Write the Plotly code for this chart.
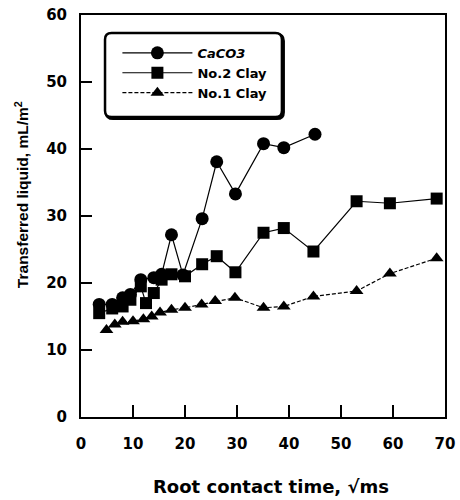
import plotly.graph_objects as go

# Data
caco3_x = [3.5, 6, 8, 9.5, 11.5, 14, 15.5, 17.4, 19.6, 23.3, 26.1, 29.7, 35.1, 39, 45]
caco3_y = [16.8, 16.8, 17.8, 18.3, 20.5, 20.8, 21.3, 27.2, 21.2, 29.6, 38.1, 33.3, 40.8, 40.2, 42.2]

clay2_x = [3.5, 6, 8, 9.5, 11.5, 12.5, 14, 15.5, 17.4, 20, 23.3, 26.1, 29.7, 35.1, 39, 44.7, 53, 59.4, 68.4]
clay2_y = [15.5, 16.2, 16.5, 17.5, 19.5, 17.0, 18.5, 20.5, 21.3, 21.0, 22.8, 24.0, 21.6, 27.5, 28.2, 24.7, 32.2, 31.9, 32.6]

clay1_x = [4.9, 6.5, 8, 10, 12, 13.6, 15.2, 17.4, 20, 23.2, 25.8, 29.6, 35.1, 39, 44.7, 53, 59.4, 68.4]
clay1_y = [13.0, 13.8, 14.2, 14.3, 14.6, 15.0, 15.6, 16.0, 16.3, 16.8, 17.3, 17.8, 16.3, 16.5, 18.0, 18.8, 21.4, 23.7]

x_ticks = [0, 10, 20, 30, 40, 50, 60, 70]
y_ticks = [0, 10, 20, 30, 40, 50, 60]

WIDE = "DejaVu Sans"
NARROW = "Liberation Sans, Arial"

fig = go.Figure()
fig.add_trace(go.Scatter(x=caco3_x, y=caco3_y, mode="lines+markers", name="<i>CaCO3</i>",
                         line=dict(color="black", width=1.2),
                         marker=dict(symbol="circle", size=13, color="black")))
fig.add_trace(go.Scatter(x=clay2_x, y=clay2_y, mode="lines+markers", name="No.2 Clay",
                         line=dict(color="black", width=1.2),
                         marker=dict(symbol="square", size=12, color="black")))
fig.add_trace(go.Scatter(x=clay1_x, y=clay1_y, mode="lines+markers", name="No.1 Clay",
                         line=dict(color="black", width=1.2, dash="4px,2px"),
                         marker=dict(symbol="triangle-up", size=12, color="black")))

# rounded legend frame (paper coordinates), with a slight drop shadow
def rounded(x0, x1, y0, y1, rx=0.018, ry=0.016):
    return (f"M {x0+rx},{y1} L {x1-rx},{y1} Q {x1},{y1} {x1},{y1-ry} "
            f"L {x1},{y0+ry} Q {x1},{y0} {x1-rx},{y0} L {x0+rx},{y0} "
            f"Q {x0},{y0} {x0},{y0+ry} L {x0},{y1-ry} Q {x0},{y1} {x0+rx},{y1} Z")

dx, dy = 1.5 / 364, 1.5 / 402
shapes = [
    dict(type="path", xref="paper", yref="paper", path=rounded(0.066 + dx, 0.552 + dx, 0.746 - dy, 0.955 - dy),
         line=dict(color="black", width=3), fillcolor="black", layer="above"),
    dict(type="path", xref="paper", yref="paper", path=rounded(0.066, 0.552, 0.746, 0.955),
         line=dict(color="black", width=2.5), fillcolor="white", layer="above"),
]

tickfont = dict(family=WIDE, size=15, color="black", weight="bold")
fig.update_layout(
    width=460, height=500,
    margin=dict(l=81, r=15, t=15, b=83, autoexpand=False),
    paper_bgcolor="white", plot_bgcolor="white",
    showlegend=True,
    shapes=shapes,
    legend=dict(x=0.10, y=0.943, xanchor="left", yanchor="top",
                bgcolor="rgba(0,0,0,0)", borderwidth=0,
                font=dict(family=WIDE, size=13, color="black", weight="bold"),
                itemwidth=70, tracegroupgap=0, itemsizing="trace"),
    xaxis=dict(range=[0, 70], tickvals=x_ticks, ticks="inside", ticklen=12, tickwidth=2,
               tickcolor="black", showline=True, linecolor="black", linewidth=2, mirror=True,
               showgrid=False, zeroline=False, tickfont=tickfont, ticklabelstandoff=12,
               automargin=False),
    yaxis=dict(range=[0, 60], tickvals=y_ticks, ticks="inside", ticklen=11, tickwidth=2,
               tickcolor="black", showline=True, linecolor="black", linewidth=2, mirror=True,
               showgrid=False, zeroline=False, tickfont=tickfont, ticklabelstandoff=9,
               automargin=False),
    annotations=[
        dict(text="Transferred liquid, mL/m<sup>2</sup>", xref="paper", yref="paper",
             x=-0.162, y=0.552, xanchor="center", yanchor="middle", textangle=-90,
             showarrow=False,
             font=dict(family=NARROW, size=15.5, color="black", weight="bold")),
        dict(text="Root contact time, √ms", xref="paper", yref="paper",
             x=0.522, y=-0.172, xanchor="center", yanchor="middle",
             showarrow=False,
             font=dict(family=WIDE, size=18, color="black", weight="bold")),
    ],
)
fig.write_html("out.html", config={"displayModeBar": False},
               post_script="document.body.style.margin='0px';")
